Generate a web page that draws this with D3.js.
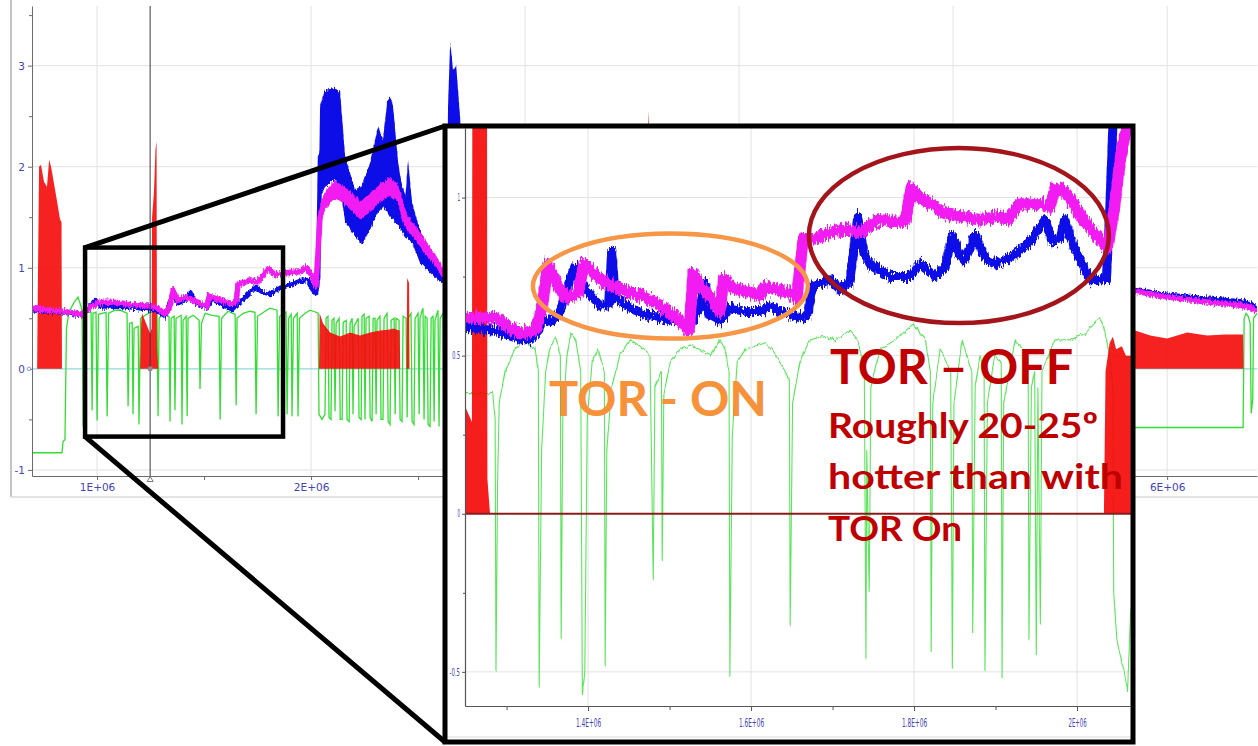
<!DOCTYPE html>
<html>
<head>
<meta charset="utf-8">
<script src="https://cdn.jsdelivr.net/npm/d3@7"></script>
<style>
  body { margin: 0; background: #ffffff; }
  svg { display: block; }
  text { font-family: "DejaVu Sans", sans-serif; }
</style>
</head>
<body>
<svg id="chart" width="1258" height="746"></svg>
<script>
// ---------------------------------------------------------------------------
// Data. x values are sample counts in millions, y values are sensor readings.
// ---------------------------------------------------------------------------

// Main (full run) view
const mainXGrid = [1, 2, 3, 4, 5, 6];
const mainXTicks = [1, 2, 6];
const mainXTickLabels = ["1E+06", "2E+06", "6E+06"];
const mainXMinorTicks = [1.5, 2.5, 3.5, 4.5, 5.5];
const mainYTicks = [-1, 0, 1, 2, 3];
const mainYTickLabels = ["-1", "0", "1", "2", "3"];
const mainYMinorTicks = [-0.5, 0.5, 1.5, 2.5, 3.5];
const cursorX = 1.248;

const mainMagenta = [
  [0.696, 0.60], [0.780, 0.58], [0.836, 0.57], [0.930, 0.54], [0.958, 0.60],
  [0.991, 0.64], [1.014, 0.66], [1.084, 0.66], [1.154, 0.64], [1.248, 0.62],
  [1.285, 0.60], [1.318, 0.54], [1.341, 0.62], [1.355, 0.78], [1.379, 0.68],
  [1.411, 0.71], [1.481, 0.65], [1.514, 0.61], [1.523, 0.72], [1.575, 0.68],
  [1.621, 0.65], [1.650, 0.66], [1.659, 0.84], [1.715, 0.87], [1.752, 0.86],
  [1.799, 0.99], [1.832, 0.93], [1.879, 0.95], [1.949, 0.96], [1.977, 1.00],
  [2.005, 0.92], [2.023, 0.82], [2.042, 1.50], [2.065, 1.67], [2.112, 1.77],
  [2.136, 1.74], [2.182, 1.67], [2.229, 1.57], [2.276, 1.64], [2.322, 1.74],
  [2.369, 1.80], [2.407, 1.74], [2.439, 1.47], [2.486, 1.35], [2.533, 1.21],
  [2.579, 1.08], [2.626, 0.91], [2.720, 0.90], [3.200, 0.88], [4.500, 0.82],
  [5.850, 0.77], [5.967, 0.72], [6.154, 0.67], [6.341, 0.63], [6.388, 0.61],
  [6.420, 0.57]
];
// spread of the magenta trace while the load is high: [x, low, high]
const mainMagentaBand = [
  [2.037, 1.00, 1.30], [2.042, 1.42, 1.62], [2.065, 1.58, 1.76], [2.112, 1.68, 1.86],
  [2.136, 1.66, 1.83], [2.182, 1.58, 1.76], [2.229, 1.48, 1.66], [2.276, 1.55, 1.73],
  [2.322, 1.65, 1.83], [2.369, 1.71, 1.89], [2.407, 1.65, 1.82], [2.439, 1.40, 1.55],
  [2.486, 1.28, 1.42], [2.533, 1.14, 1.28], [2.579, 1.02, 1.14], [2.626, 0.86, 0.97]
];

const mainBlue = [
  [0.696, 0.58], [0.836, 0.56], [0.930, 0.53], [0.958, 0.60], [0.991, 0.68],
  [1.014, 0.62], [1.154, 0.61], [1.248, 0.59], [1.294, 0.56], [1.318, 0.52],
  [1.350, 0.71], [1.379, 0.65], [1.411, 0.68], [1.435, 0.76], [1.458, 0.66],
  [1.514, 0.60], [1.537, 0.69], [1.598, 0.62], [1.631, 0.59], [1.668, 0.66],
  [1.692, 0.71], [1.738, 0.81], [1.771, 0.76], [1.808, 0.74], [1.855, 0.80],
  [1.902, 0.83], [1.949, 0.87], [1.986, 0.88], [2.005, 0.79], [2.023, 0.74],
  [2.033, 0.90], [2.042, 2.10], [2.112, 2.30], [2.206, 1.55], [2.276, 1.70],
  [2.369, 2.10], [2.472, 1.45], [2.603, 0.92], [2.720, 1.00], [3.200, 0.95],
  [4.500, 0.85], [5.850, 0.79], [5.967, 0.74], [6.154, 0.70], [6.341, 0.67],
  [6.388, 0.65], [6.420, 0.60]
];
// spread of the blue trace while the load is high: [x, low, high]
const mainBlueBand = [
  [2.033, 0.75, 1.20], [2.042, 1.70, 2.60], [2.065, 1.80, 2.76], [2.112, 1.87, 2.78],
  [2.136, 1.80, 2.73], [2.159, 1.45, 2.10], [2.206, 1.31, 1.77], [2.238, 1.23, 1.82],
  [2.276, 1.38, 2.04], [2.313, 1.55, 2.40], [2.336, 1.60, 2.27], [2.355, 1.55, 2.63],
  [2.369, 1.50, 2.70], [2.383, 1.48, 2.60], [2.407, 1.42, 2.04], [2.439, 1.30, 1.64],
  [2.453, 1.28, 2.07], [2.472, 1.25, 1.64], [2.509, 1.05, 1.38], [2.556, 0.95, 1.15],
  [2.603, 0.86, 0.97], [2.631, 0.82, 0.95], [2.640, 0.85, 2.60], [2.650, 0.90, 3.23],
  [2.664, 1.00, 2.95], [2.678, 1.00, 3.00], [2.696, 1.00, 2.50], [2.720, 0.95, 1.60]
];

const mainRed = [
  [0.696, 0], [0.720, 0], [0.722, 0.52], [0.729, 2.00], [0.738, 2.02], [0.752, 1.85],
  [0.766, 1.80], [0.776, 2.07], [0.785, 2.00], [0.804, 1.77], [0.827, 1.48],
  [0.834, 1.45], [0.836, 0], [1.201, 0], [1.206, 0.45], [1.210, 0.55], [1.248, 0.35],
  [1.255, 0.40], [1.257, 1.50], [1.266, 1.75], [1.273, 2.17], [1.278, 2.25],
  [1.280, 0.20], [1.285, 0], [2.037, 0], [2.040, 0.55], [2.056, 0.45], [2.089, 0.36],
  [2.136, 0.32], [2.182, 0.36], [2.229, 0.33], [2.276, 0.36], [2.322, 0.38],
  [2.369, 0.39], [2.383, 0.40], [2.414, 0.38], [2.416, 0], [2.446, 0], [2.449, 0.90],
  [2.458, 0.85], [2.460, 0], [3.573, 0], [3.575, 2.55], [3.579, 2.40], [3.582, 0],
  [5.827, 0], [5.832, 0.38], [5.850, 0.38], [5.921, 0.33], [6.000, 0.30],
  [6.094, 0.36], [6.187, 0.33], [6.271, 0.34], [6.355, 0.34], [6.357, 0], [6.420, 0]
];

const mainGreen = [
  [0.696, -0.83], [0.836, -0.83], [0.841, -0.72], [0.850, -0.70], [0.857, 0.40],
  [0.869, 0.56], [0.893, 0.66], [0.911, 0.71], [0.925, 0.62], [0.930, 0.57],
  [0.935, -0.57], [0.942, 0.50], [0.953, 0.56], [0.972, 0.56], [0.977, -0.41],
  [0.981, 0.55], [0.995, 0.56], [1.000, -0.51], [1.007, 0.54], [1.042, 0.56],
  [1.047, -0.47], [1.054, 0.55], [1.084, 0.58], [1.107, 0.58], [1.140, 0.55],
  [1.145, -0.37], [1.152, 0.45], [1.164, 0.46], [1.168, -0.45], [1.173, 0.40],
  [1.192, 0.42], [1.196, -0.55], [1.203, 0.50], [1.248, 0.56], [1.280, 0.56],
  [1.285, -0.47], [1.290, 0.50], [1.308, 0.55], [1.336, 0.52], [1.341, -0.52],
  [1.346, 0.50], [1.360, 0.52], [1.364, -0.41], [1.369, 0.50], [1.393, 0.53],
  [1.397, -0.55], [1.402, 0.48], [1.416, 0.52], [1.421, -0.47], [1.425, 0.50],
  [1.449, 0.53], [1.477, 0.48], [1.481, -0.20], [1.488, 0.45], [1.505, 0.55],
  [1.537, 0.53], [1.570, 0.52], [1.575, -0.50], [1.582, 0.50], [1.612, 0.57],
  [1.645, 0.54], [1.650, -0.36], [1.654, 0.50], [1.682, 0.55], [1.715, 0.57],
  [1.738, 0.56], [1.743, -0.45], [1.750, 0.52], [1.785, 0.57], [1.808, 0.60],
  [1.841, 0.58], [1.846, -0.47], [1.853, 0.52], [1.883, 0.56], [1.888, -0.45],
  [1.895, 0.50], [1.907, 0.54], [1.911, -0.47], [1.918, 0.50], [1.935, 0.55],
  [1.939, -0.47], [1.946, 0.50], [1.972, 0.55], [1.995, 0.58], [2.023, 0.56],
  [2.033, 0.55], [2.037, -0.45], [2.051, -0.50], [2.065, -0.45], [2.070, 0.50],
  [2.079, 0.52], [2.084, -0.48], [2.093, -0.50], [2.098, 0.48], [2.107, 0.50],
  [2.112, -0.42], [2.117, 0.45], [2.131, 0.50], [2.136, -0.50], [2.145, -0.50],
  [2.150, 0.46], [2.164, 0.48], [2.168, -0.50], [2.178, -0.52], [2.182, 0.45],
  [2.192, 0.50], [2.196, -0.45], [2.201, 0.42], [2.220, 0.50], [2.224, -0.48],
  [2.234, -0.50], [2.238, 0.52], [2.248, 0.54], [2.252, -0.50], [2.257, 0.50],
  [2.271, 0.52], [2.276, -0.48], [2.285, -0.52], [2.290, 0.50], [2.299, 0.50],
  [2.304, -0.45], [2.308, 0.48], [2.322, 0.52], [2.327, -0.50], [2.336, -0.50],
  [2.341, 0.50], [2.355, 0.55], [2.360, -0.52], [2.369, -0.55], [2.374, 0.48],
  [2.388, 0.50], [2.393, -0.45], [2.397, 0.50], [2.411, 0.48], [2.416, -0.50],
  [2.425, -0.52], [2.430, 0.52], [2.444, 0.50], [2.449, -0.48], [2.453, 0.50],
  [2.467, 0.55], [2.472, -0.52], [2.481, -0.55], [2.486, 0.50], [2.500, 0.55],
  [2.505, -0.45], [2.509, 0.50], [2.519, 0.58], [2.523, 0.60], [2.528, -0.50],
  [2.533, 0.52], [2.542, 0.50], [2.547, -0.55], [2.556, -0.57], [2.561, 0.50],
  [2.570, 0.52], [2.575, -0.52], [2.579, 0.48], [2.589, 0.55], [2.593, 0.58],
  [2.598, -0.57], [2.603, 0.50], [2.617, 0.55], [2.621, -0.50], [2.626, 0.50],
  [2.650, 0.50], [5.700, -0.58], [6.355, -0.58], [6.360, 0.50], [6.369, 0.55],
  [6.379, 0.52], [6.388, 0.45], [6.393, -0.44], [6.400, -0.30], [6.404, 0.50],
  [6.420, 0.55]
];

// Zoomed view of the window 0.944M .. 1.869M (bench run with and without TOR)
const zoomWindow = { x0: 0.944, x1: 1.869, y0: -0.67, y1: 1.20 };
const insetXTicks = [1.4, 1.6, 1.8, 2.0];
const insetXTickLabels = ["1.4E+06", "1.6E+06", "1.8E+06", "2E+06"];
const insetXMinorTicks = [1.3, 1.5, 1.7, 1.9];
const insetYTicks = [-0.5, 0, 0.5, 1];
const insetYTickLabels = ["-0.5", "0", "0.5", "1"];
const insetYMinorTicks = [-0.25, 0.25, 0.75];

const insetMagenta = [
  [1.249, 0.62], [1.286, 0.62], [1.298, 0.60], [1.317, 0.57], [1.335, 0.58],
  [1.344, 0.66], [1.351, 0.79], [1.356, 0.76], [1.372, 0.68], [1.388, 0.70],
  [1.395, 0.79], [1.402, 0.77], [1.421, 0.73], [1.439, 0.71], [1.464, 0.69],
  [1.488, 0.66], [1.513, 0.61], [1.524, 0.58], [1.529, 0.76], [1.537, 0.72],
  [1.552, 0.68], [1.562, 0.64], [1.566, 0.74], [1.580, 0.71], [1.599, 0.70],
  [1.611, 0.69], [1.617, 0.72], [1.629, 0.71], [1.648, 0.70], [1.656, 0.68],
  [1.664, 0.87], [1.679, 0.87], [1.697, 0.89], [1.715, 0.90], [1.734, 0.89],
  [1.746, 0.91], [1.758, 0.93], [1.783, 0.92], [1.790, 0.93], [1.796, 1.03],
  [1.807, 1.00], [1.820, 0.98], [1.838, 0.95], [1.856, 0.94], [1.881, 0.93],
  [1.906, 0.94], [1.915, 0.93], [1.930, 0.98], [1.955, 0.98], [1.967, 0.97],
  [1.973, 1.03], [1.985, 1.02], [1.998, 0.97], [2.010, 0.92], [2.028, 0.87],
  [2.037, 0.84], [2.045, 0.95], [2.053, 1.12], [2.063, 1.25], [2.066, 1.30]
];

const insetBlue = [
  [1.249, 0.59], [1.286, 0.58], [1.317, 0.55], [1.329, 0.55], [1.337, 0.57],
  [1.344, 0.61], [1.356, 0.61], [1.366, 0.64], [1.375, 0.72], [1.384, 0.78],
  [1.390, 0.74], [1.400, 0.70], [1.415, 0.66], [1.425, 0.66], [1.429, 0.83],
  [1.434, 0.68], [1.452, 0.65], [1.470, 0.63], [1.488, 0.62], [1.507, 0.61],
  [1.525, 0.60], [1.537, 0.65], [1.544, 0.73], [1.548, 0.63], [1.562, 0.61],
  [1.574, 0.65], [1.593, 0.64], [1.611, 0.64], [1.623, 0.66], [1.636, 0.64],
  [1.660, 0.62], [1.670, 0.63], [1.675, 0.72], [1.697, 0.74], [1.709, 0.71],
  [1.721, 0.73], [1.731, 0.94], [1.738, 0.83], [1.746, 0.79], [1.771, 0.75],
  [1.795, 0.75], [1.807, 0.79], [1.826, 0.75], [1.838, 0.78], [1.847, 0.88],
  [1.856, 0.82], [1.862, 0.80], [1.875, 0.88], [1.887, 0.81], [1.899, 0.79],
  [1.918, 0.81], [1.942, 0.86], [1.961, 0.93], [1.969, 0.86], [1.979, 0.87],
  [1.985, 0.93], [1.994, 0.86], [2.004, 0.80], [2.016, 0.74], [2.028, 0.74],
  [2.036, 0.74], [2.040, 0.95], [2.045, 1.30]
];

const insetRed = [
  [1.249, 0.34], [1.2575, 0.29], [1.258, 1.30], [1.276, 1.30], [1.2765, 0.11],
  [1.2797, 0], [2.033, 0], [2.035, 0.45], [2.040, 0.54], [2.044, 0.56],
  [2.048, 0.52], [2.055, 0.53], [2.060, 0.50], [2.066, 0.50]
];

const insetGreen = [
  [1.249, 0.38], [1.283, 0.38], [1.286, 0.30], [1.287, -0.50], [1.289, 0.10],
  [1.291, 0.35], [1.298, 0.45], [1.310, 0.52], [1.323, 0.55], [1.335, 0.52],
  [1.339, 0.45], [1.340, -0.55], [1.343, 0.20], [1.348, 0.45], [1.353, 0.52],
  [1.360, 0.56], [1.366, 0.50], [1.367, -0.40], [1.369, 0.30], [1.374, 0.50],
  [1.379, 0.57], [1.385, 0.55], [1.391, 0.45], [1.393, -0.57], [1.396, -0.50],
  [1.399, 0.30], [1.405, 0.48], [1.412, 0.52], [1.420, 0.45], [1.421, -0.48],
  [1.423, 0.20], [1.429, 0.40], [1.439, 0.50], [1.452, 0.55], [1.464, 0.53],
  [1.476, 0.50], [1.480, -0.21], [1.482, 0.40], [1.490, 0.45], [1.491, -0.15],
  [1.493, 0.38], [1.501, 0.48], [1.513, 0.52], [1.525, 0.53], [1.537, 0.52],
  [1.550, 0.50], [1.562, 0.55], [1.568, 0.52], [1.573, 0.45], [1.574, -0.51],
  [1.577, 0.25], [1.583, 0.48], [1.593, 0.52], [1.605, 0.53], [1.617, 0.54],
  [1.626, 0.52], [1.642, 0.45], [1.647, 0.42], [1.648, -0.35], [1.651, 0.35],
  [1.660, 0.48], [1.672, 0.55], [1.687, 0.56], [1.703, 0.55], [1.721, 0.58],
  [1.731, 0.55], [1.739, 0.45], [1.741, -0.46], [1.742, 0.20], [1.745, -0.25],
  [1.747, 0.40], [1.758, 0.52], [1.777, 0.55], [1.799, 0.60], [1.814, 0.55],
  [1.820, 0.45], [1.821, -0.44], [1.823, 0.35], [1.832, 0.52], [1.845, 0.45],
  [1.847, -0.49], [1.849, 0.35], [1.859, 0.55], [1.871, 0.45], [1.872, -0.38],
  [1.875, 0.40], [1.881, 0.50], [1.886, 0.45], [1.887, -0.50], [1.890, 0.35],
  [1.899, 0.50], [1.907, 0.48], [1.908, -0.52], [1.910, 0.35], [1.924, 0.55],
  [1.940, 0.50], [1.941, -0.40], [1.944, 0.40], [1.948, 0.45], [1.950, -0.45],
  [1.952, 0.40], [1.955, -0.35], [1.957, 0.45], [1.973, 0.55], [1.992, 0.55],
  [2.010, 0.57], [2.028, 0.62], [2.034, 0.58], [2.040, 0.50], [2.044, 0.40],
  [2.045, -0.25], [2.049, -0.40], [2.053, -0.45], [2.058, -0.50], [2.062, -0.56],
  [2.066, -0.30]
];

// Annotations inside the zoomed view: [xCentre, yCentre, xRadius, yRadius]
const torOnRegion = [1.501, 0.72, 0.1687, 0.166];
const torOffRegion = [1.855, 0.88, 0.184, 0.277];
const notes = [
  { text: "TOR - ON",           x: 549, y: 416, size: 47, width: 218, color: "#f7923a" },
  { text: "TOR \u2013 OFF",      x: 830, y: 384, size: 47, width: 243, color: "#c00000" },
  { text: "Roughly 20-25\u00ba", x: 828, y: 438, size: 35, width: 270, color: "#c00000" },
  { text: "hotter than with",   x: 828, y: 489, size: 35, width: 295, color: "#c00000" },
  { text: "TOR On",             x: 828, y: 541, size: 35, width: 134, color: "#c00000" }
];

// ---------------------------------------------------------------------------
// Colours
// ---------------------------------------------------------------------------
const C = {
  blue: "#0a0ae8", magenta: "#f21cf2", red: "#f50a0a", green: "#33dd33",
  grid: "#e2e2e2", axis: "#6b6b6b", label: "#4343b8", zero: "#8fd9dc"
};

const svg = d3.select("#chart");
const defs = svg.append("defs");

// sample-to-sample jitter of the temperature traces (vertical only)
function addJitter(id, freq, scale, seed) {
  const f = defs.append("filter").attr("id", id)
    .attr("filterUnits", "userSpaceOnUse")
    .attr("x", 0).attr("y", 0).attr("width", 1258).attr("height", 746);
  f.append("feTurbulence").attr("type", "fractalNoise").attr("baseFrequency", freq)
    .attr("numOctaves", 2).attr("seed", seed).attr("result", "noise");
  f.append("feColorMatrix").attr("in", "noise").attr("type", "matrix")
    .attr("values", "0 0 0 0 0.5  0 1 0 0 0  0 0 0 0 0  0 0 0 0 1").attr("result", "vnoise");
  f.append("feDisplacementMap").attr("in", "SourceGraphic").attr("in2", "vnoise")
    .attr("scale", scale).attr("xChannelSelector", "R").attr("yChannelSelector", "G");
}
addJitter("jitterMain", "0.9 0.2", 7, 3);
addJitter("jitterInset", "0.7 0.15", 13, 5);
addJitter("jitterGreen", "0.35 0.1", 6, 9);

// ---------------------------------------------------------------------------
// Main view
// ---------------------------------------------------------------------------
const mx = d3.scaleLinear().domain([0.696, 6.42]).range([32, 1257]);
const my = d3.scaleLinear().domain([-1.06, 3.59]).range([476, 6]);

// window frame lines
svg.append("line").attr("x1", 11).attr("x2", 11).attr("y1", 0).attr("y2", 497)
  .attr("stroke", "#c4c4c4").attr("stroke-width", 2);
svg.append("line").attr("x1", 11).attr("x2", 1258).attr("y1", 497).attr("y2", 497)
  .attr("stroke", "#dadada").attr("stroke-width", 1.5);

defs.append("clipPath").attr("id", "mainClip")
  .append("rect").attr("x", 32).attr("y", 6).attr("width", 1225).attr("height", 470);

const main = svg.append("g");
main.append("g").selectAll("line").data(mainXGrid).join("line")
  .attr("x1", d => mx(d)).attr("x2", d => mx(d)).attr("y1", 6).attr("y2", 476)
  .attr("stroke", C.grid).attr("stroke-width", 1);
main.append("g").selectAll("line").data(mainYTicks.filter(d => d !== 0)).join("line")
  .attr("x1", 32).attr("x2", 1257).attr("y1", d => my(d)).attr("y2", d => my(d))
  .attr("stroke", C.grid).attr("stroke-width", 1);
main.append("line").attr("x1", 32).attr("x2", 1257).attr("y1", my(0)).attr("y2", my(0))
  .attr("stroke", C.zero).attr("stroke-width", 1.2);

const plot = main.append("g").attr("clip-path", "url(#mainClip)");
const mLine = d3.line().x(d => mx(d[0])).y(d => my(d[1]));
const mArea0 = d3.area().x(d => mx(d[0])).y0(my(0)).y1(d => my(d[1]));
const mBand = d3.area().x(d => mx(d[0])).y0(d => my(d[1])).y1(d => my(d[2]));

plot.append("path").datum(mainGreen).attr("d", mLine)
  .attr("fill", "none").attr("stroke", C.green).attr("stroke-width", 1.3);
plot.append("path").datum(mainRed).attr("d", mArea0)
  .attr("fill", C.red).attr("fill-opacity", 0.9);
const mainTemps = plot.append("g").attr("filter", "url(#jitterMain)");
mainTemps.append("path").datum(mainBlueBand).attr("d", mBand).attr("fill", C.blue);
mainTemps.append("path").datum(mainBlue).attr("d", mLine)
  .attr("fill", "none").attr("stroke", C.blue).attr("stroke-width", 4.5)
  .attr("stroke-linejoin", "round");
mainTemps.append("path").datum(mainMagentaBand).attr("d", mBand).attr("fill", C.magenta);
mainTemps.append("path").datum(mainMagenta).attr("d", mLine)
  .attr("fill", "none").attr("stroke", C.magenta).attr("stroke-width", 5.5)
  .attr("stroke-linejoin", "round");

// cursor
main.append("line").attr("x1", mx(cursorX)).attr("x2", mx(cursorX)).attr("y1", 6).attr("y2", 476)
  .attr("stroke", "#3a3a3a").attr("stroke-width", 1);
main.append("circle").attr("cx", mx(cursorX)).attr("cy", my(0)).attr("r", 2.5).attr("fill", "#8a8a9a");
main.append("path")
  .attr("d", `M${mx(cursorX)},${476.5} l-3,5 l6,0 z`)
  .attr("fill", "#ffffff").attr("stroke", "#777").attr("stroke-width", 1);

// axes
const mxAxis = main.append("g").attr("transform", "translate(0,476)")
  .call(d3.axisBottom(mx).tickValues(mainXTicks).tickFormat((d, i) => mainXTickLabels[i])
    .tickSize(4).tickSizeOuter(0).tickPadding(4));
main.append("g").attr("transform", "translate(0,476)")
  .call(d3.axisBottom(mx).tickValues(mainXMinorTicks).tickFormat("").tickSize(4).tickSizeOuter(0))
  .select(".domain").remove();
const myAxis = main.append("g").attr("transform", "translate(32,0)")
  .call(d3.axisLeft(my).tickValues(mainYTicks).tickFormat((d, i) => mainYTickLabels[i])
    .tickSize(4).tickSizeOuter(0).tickPadding(3));
main.append("g").attr("transform", "translate(32,0)")
  .call(d3.axisLeft(my).tickValues(mainYMinorTicks).tickFormat("").tickSize(3).tickSizeOuter(0))
  .select(".domain").remove();
main.selectAll(".domain").attr("stroke", C.axis);
main.selectAll(".tick line").attr("stroke", C.axis);
[mxAxis, myAxis].forEach(a => a.selectAll("text")
  .attr("fill", C.label).style("font-size", "10.5px").style("font-family", "DejaVu Sans"));
myAxis.selectAll("text").attr("x", -7);
main.append("circle").attr("cx", 29).attr("cy", my(0)).attr("r", 1.8)
  .attr("fill", "#fff").attr("stroke", "#7a7ab8").attr("stroke-width", 0.8);

// zoom window and connectors
const zx0 = mx(zoomWindow.x0), zx1 = mx(zoomWindow.x1);
const zy0 = my(zoomWindow.y1), zy1 = my(zoomWindow.y0);
const inset = { x: 445, y: 126, w: 688, h: 616 };
const frames = svg.append("g").attr("stroke", "#000").attr("fill", "none").attr("stroke-width", 5);
frames.append("line").attr("x1", zx0).attr("y1", zy0).attr("x2", inset.x).attr("y2", inset.y);
frames.append("line").attr("x1", zx0).attr("y1", zy1).attr("x2", inset.x).attr("y2", inset.y + inset.h);
frames.append("rect").attr("x", zx0).attr("y", zy0).attr("width", zx1 - zx0).attr("height", zy1 - zy0)
  .attr("stroke-width", 4.5);

// ---------------------------------------------------------------------------
// Zoomed view
// ---------------------------------------------------------------------------
const ix = d3.scaleLinear().domain([1.249, 2.065]).range([465, 1130]);
const iy = d3.scaleLinear().domain([-0.608, 1.22]).range([706, 128]);

const ins = svg.append("g");
ins.append("rect").attr("x", inset.x).attr("y", inset.y).attr("width", inset.w).attr("height", inset.h)
  .attr("fill", "#ffffff");
defs.append("clipPath").attr("id", "insetClip")
  .append("rect").attr("x", 465).attr("y", 128).attr("width", 666).attr("height", 578);

ins.append("line").attr("x1", 448).attr("x2", 1131).attr("y1", 737).attr("y2", 737)
  .attr("stroke", "#dcdcdc").attr("stroke-width", 1);
ins.append("g").selectAll("line").data(insetXTicks).join("line")
  .attr("x1", d => ix(d)).attr("x2", d => ix(d)).attr("y1", 128).attr("y2", 706)
  .attr("stroke", C.grid).attr("stroke-width", 1);
ins.append("g").selectAll("line").data(insetYTicks.filter(d => d !== 0)).join("line")
  .attr("x1", 465).attr("x2", 1131).attr("y1", d => iy(d)).attr("y2", d => iy(d))
  .attr("stroke", C.grid).attr("stroke-width", 1);

const iplot = ins.append("g").attr("clip-path", "url(#insetClip)");
const iLine = d3.line().x(d => ix(d[0])).y(d => iy(d[1]));
const iArea0 = d3.area().x(d => ix(d[0])).y0(iy(0)).y1(d => iy(d[1]));

iplot.append("g").attr("filter", "url(#jitterGreen)")
  .append("path").datum(insetGreen).attr("d", iLine)
  .attr("fill", "none").attr("stroke", "#3fe03f").attr("stroke-width", 1.1).attr("stroke-opacity", 0.85);
iplot.append("path").datum(insetRed).attr("d", iArea0)
  .attr("fill", C.red).attr("fill-opacity", 0.92);
iplot.append("line").attr("x1", 465).attr("x2", 1131).attr("y1", iy(0)).attr("y2", iy(0))
  .attr("stroke", "#8a1c1c").attr("stroke-width", 2);
const insetTemps = iplot.append("g").attr("filter", "url(#jitterInset)");
insetTemps.append("path").datum(insetBlue).attr("d", iLine)
  .attr("fill", "none").attr("stroke", C.blue).attr("stroke-width", 9).attr("stroke-linejoin", "round");
insetTemps.append("path").datum(insetMagenta).attr("d", iLine)
  .attr("fill", "none").attr("stroke", C.magenta).attr("stroke-width", 11.5).attr("stroke-linejoin", "round");

const ixAxis = ins.append("g").attr("transform", "translate(0,706)")
  .call(d3.axisBottom(ix).tickValues(insetXTicks).tickFormat((d, i) => insetXTickLabels[i])
    .tickSize(5).tickSizeOuter(0).tickPadding(7));
ins.append("g").attr("transform", "translate(0,706)")
  .call(d3.axisBottom(ix).tickValues(insetXMinorTicks).tickFormat("").tickSize(4).tickSizeOuter(0))
  .select(".domain").remove();
const iyAxis = ins.append("g").attr("transform", "translate(465,0)")
  .call(d3.axisLeft(iy).tickValues(insetYTicks).tickFormat((d, i) => insetYTickLabels[i])
    .tickSize(3).tickSizeOuter(0).tickPadding(2));
ins.append("g").attr("transform", "translate(465,0)")
  .call(d3.axisLeft(iy).tickValues(insetYMinorTicks).tickFormat("").tickSize(2).tickSizeOuter(0))
  .select(".domain").remove();
ins.selectAll(".domain").attr("stroke", "#555").attr("stroke-width", 1.2);
ins.selectAll(".tick line").attr("stroke", "#555");
ixAxis.selectAll("text").attr("fill", C.label).style("font-size", "12px")
  .attr("textLength", (d, i) => insetXTickLabels[i].length * 3.6).attr("lengthAdjust", "spacingAndGlyphs");
iyAxis.selectAll("text").attr("fill", C.label).style("font-size", "10px")
  .attr("textLength", (d, i) => insetYTickLabels[i].length * 2.6).attr("lengthAdjust", "spacingAndGlyphs");

// inset frame
svg.append("rect").attr("x", inset.x).attr("y", inset.y).attr("width", inset.w).attr("height", inset.h)
  .attr("fill", "none").attr("stroke", "#000").attr("stroke-width", 5);

// ---------------------------------------------------------------------------
// Annotations
// ---------------------------------------------------------------------------
const ann = svg.append("g");
[[torOnRegion, "#f79646"], [torOffRegion, "#a3151a"]].forEach(([r, col]) => {
  ann.append("ellipse")
    .attr("cx", ix(r[0])).attr("cy", iy(r[1]))
    .attr("rx", ix(r[0] + r[2]) - ix(r[0])).attr("ry", iy(r[1] - r[3]) - iy(r[1]))
    .attr("fill", "none").attr("stroke", col).attr("stroke-width", 4.5);
});
ann.selectAll("text").data(notes).join("text")
  .attr("x", d => d.x).attr("y", d => d.y)
  .attr("textLength", d => d.width).attr("lengthAdjust", "spacingAndGlyphs")
  .style("font-family", "Lato, 'Open Sans', sans-serif").style("font-weight", 700)
  .style("font-size", d => d.size + "px")
  .attr("fill", d => d.color)
  .text(d => d.text);
</script>
</body>
</html>
